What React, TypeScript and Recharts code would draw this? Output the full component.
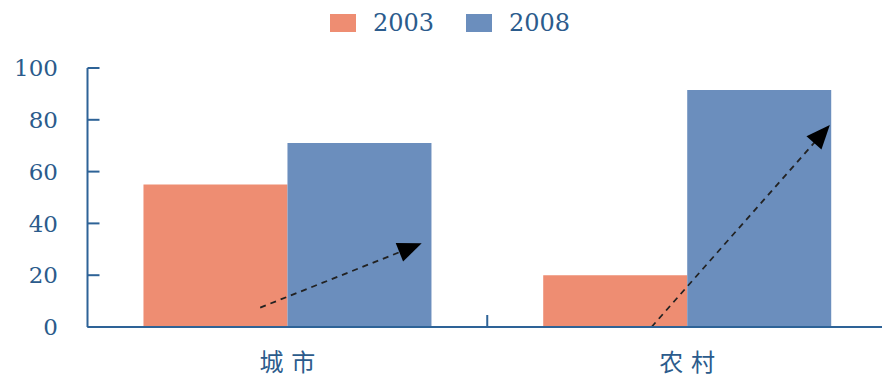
import React from 'react';
import { BarChart, Bar, XAxis, YAxis, Legend, ReferenceLine } from 'recharts';

// Categories and values
const categories = ['城市', '农村'];
const series2003 = [55, 20];
const series2008 = [71, 91.5];
const yTicks = [0, 20, 40, 60, 80, 100];
const seriesNames = ['2003', '2008'];

// Trend arrows, in (category-position, value) units: x runs 0..2 across the plot
const arrowCity = [
  { x: 0.432, y: 7.5 },
  { x: 0.836, y: 32.3 },
];
const arrowRural = [
  { x: 1.411, y: 0 },
  { x: 1.857, y: 78 },
];

const COLOR_2003 = '#EE8D72';
const COLOR_2008 = '#6B8EBD';
const AXIS = '#2E6397';
const TEXT = '#2B5B8C';

const data = categories.map((name, i) => ({
  name,
  [seriesNames[0]]: series2003[i],
  [seriesNames[1]]: series2008[i],
}));

// category position along the continuous 0..2 axis (centre of each band)
const bandCentre = (entry: any) => categories.indexOf(entry.name) + 0.5;

const ArrowShape = (props: any) => {
  const { x1, y1, x2, y2 } = props;
  const dx = x2 - x1;
  const dy = y2 - y1;
  const len = Math.sqrt(dx * dx + dy * dy) || 1;
  const ux = dx / len;
  const uy = dy / len;
  const headL = 24;
  const headW = 10;
  const bx = x2 - ux * headL;
  const by = y2 - uy * headL;
  const nx = -uy;
  const ny = ux;
  const pts = `${x2},${y2} ${bx + nx * headW},${by + ny * headW} ${bx - nx * headW},${by - ny * headW}`;
  return (
    <g>
      <line
        x1={x1}
        y1={y1}
        x2={bx + ux * 2}
        y2={by + uy * 2}
        stroke="#222"
        strokeWidth={1.8}
        strokeDasharray="6 5"
      />
      <polygon points={pts} fill="#000" />
    </g>
  );
};

const BottomTick = (props: any) => {
  const { x, y, payload } = props;
  if (payload.value === 1) {
    return <line x1={x} y1={y} x2={x} y2={y - 12} stroke={AXIS} strokeWidth={2} />;
  }
  const label = categories[Math.floor(payload.value)];
  return (
    <text
      x={x + 4}
      y={y + 44}
      textAnchor="middle"
      fill={TEXT}
      fontSize={24}
      letterSpacing={8}
      fontFamily="'Noto Sans CJK SC', sans-serif"
    >
      {label}
    </text>
  );
};

const LegendContent = () => {
  const items = seriesNames.map((n, i) => ({ name: n, color: i === 0 ? COLOR_2003 : COLOR_2008 }));
  return (
    <div
      style={{
        display: 'flex',
        justifyContent: 'center',
        alignItems: 'center',
        height: 46,
        gap: 32,
      }}
    >
      {items.map((it) => (
        <div key={it.name} style={{ display: 'flex', alignItems: 'center' }}>
          <span
            style={{
              display: 'inline-block',
              width: 26,
              height: 18,
              background: it.color,
              marginRight: 17,
            }}
          />
          <span
            style={{
              fontFamily: "'DejaVu Serif', serif",
              fontSize: 24,
              color: TEXT,
              lineHeight: '24px',
            }}
          >
            {it.name}
          </span>
        </div>
      ))}
    </div>
  );
};

export default function App() {
  return (
    <div
      style={{
        position: 'absolute',
        left: 0,
        top: 0,
        width: 882,
        height: 378,
        overflow: 'hidden',
        background: '#fff',
      }}
    >
      <BarChart
        width={895}
        height={378}
        data={data}
        margin={{ top: 68, right: 8, left: 0, bottom: 0 }}
        barCategoryGap="14%"
        barGap={0}
      >
        <XAxis xAxisId="cat" dataKey="name" hide height={0} />
        <XAxis
          xAxisId="num"
          type="number"
          dataKey={bandCentre}
          domain={[0, 2]}
          allowDataOverflow
          ticks={[0.5, 1, 1.5]}
          height={51}
          tickSize={0}
          tickMargin={0}
          tickLine={false}
          axisLine={{ stroke: AXIS, strokeWidth: 2 }}
          tick={<BottomTick />}
          interval={0}
        />
        <YAxis
          width={87.5}
          domain={[0, 100]}
          ticks={yTicks}
          interval={0}
          tickSize={-12}
          tickMargin={41.5}
          axisLine={{ stroke: AXIS, strokeWidth: 2 }}
          tickLine={{ stroke: AXIS, strokeWidth: 2 }}
          tick={{ fill: TEXT, fontSize: 23, fontFamily: "'DejaVu Serif', serif" }}
        />
        <Legend
          verticalAlign="middle"
          align="center"
          wrapperStyle={{ left: 0, top: 0, width: 900, height: 46 }}
          content={<LegendContent />}
        />
        <Bar xAxisId="cat" dataKey={seriesNames[0]} fill={COLOR_2003} isAnimationActive={false} />
        <Bar xAxisId="cat" dataKey={seriesNames[1]} fill={COLOR_2008} isAnimationActive={false} />
        <ReferenceLine xAxisId="num" segment={arrowCity} shape={ArrowShape} />
        <ReferenceLine xAxisId="num" segment={arrowRural} shape={ArrowShape} />
      </BarChart>
    </div>
  );
}
